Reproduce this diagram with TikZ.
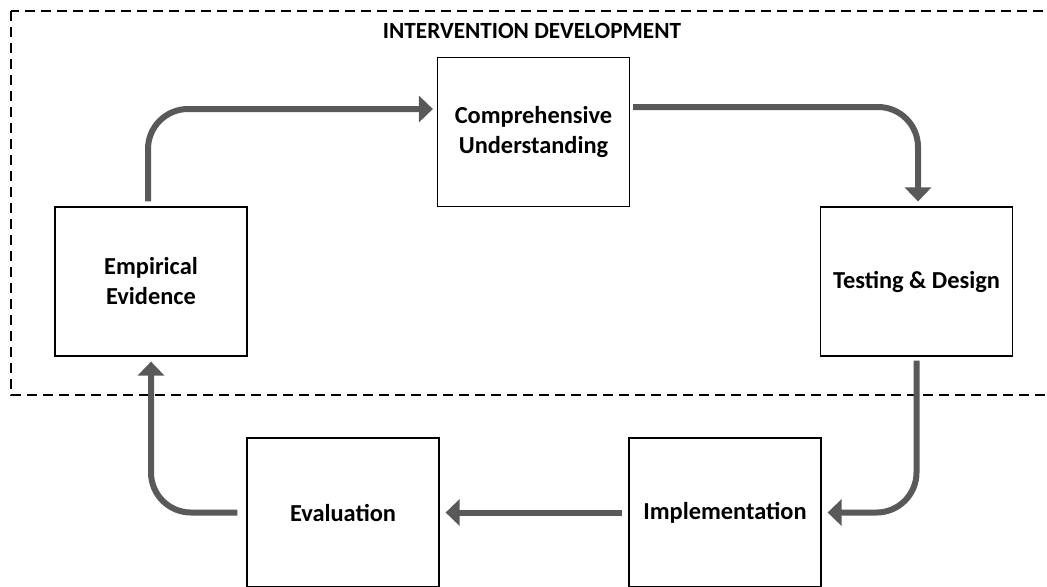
\documentclass[tikz,border=0pt]{standalone}
\usepackage{fontspec}
\setmainfont{Carlito}
\usetikzlibrary{arrows.meta}
\definecolor{arrowgray}{RGB}{89,89,89}

\begin{document}
\begin{tikzpicture}[x=0.5pt, y=-0.5pt,
  stage/.style={draw=black, line width=0.6pt, fill=white, minimum width=96pt, minimum height=74.5pt,
                inner sep=2pt, align=center, font=\fontsize{12.2}{15}\selectfont\bfseries},
  flow/.style={draw=arrowgray, line width=3pt, rounded corners=20pt, -{Triangle[width=13pt,length=7pt]}},
  frame/.style={dashed, line width=1pt, dash pattern=on 5pt off 3pt}]

\useasboundingbox (0,0) rectangle (1047,586);

% -------- Development frame -----------
\draw [frame] (11,11) rectangle (1055,395);
\node [font=\fontsize{11.6}{13}\selectfont\bfseries] (title) at (532,31) {INTERVENTION DEVELOPMENT};

% -------- Stages -----------
\node [stage] (emp)  at (151,281.5)   {Empirical\\Evidence};
\node [stage] (comp) at (533.5,132)   {Comprehensive\\Understanding};
\node [stage] (test) at (916.5,281.5) {Testing \& Design};
\node [stage] (impl) at (725,512.5)   {Implementation};
\node [stage] (eval) at (343,512.5)   {Evaluation};

% Top row
\draw [flow, shorten <=2.5pt, shorten >=2pt]   ([xshift=-1.5pt]emp.north) |- ([yshift=11.5pt]comp.west);
\draw [flow, shorten <=1.5pt, shorten >=2.5pt] ([yshift=12.5pt]comp.east) -| ([xshift=0.75pt]test.north);

% Bottom row
\draw [flow, shorten <=2pt, shorten >=3pt]     (test.south) |- (impl.east);
\draw [flow, shorten <=3pt, shorten >=3pt]     (impl.west) -- (eval.east);
\draw [flow, shorten <=4.5pt, shorten >=2.5pt] (eval.west) -| (emp.south);

\end{tikzpicture}
\end{document}
